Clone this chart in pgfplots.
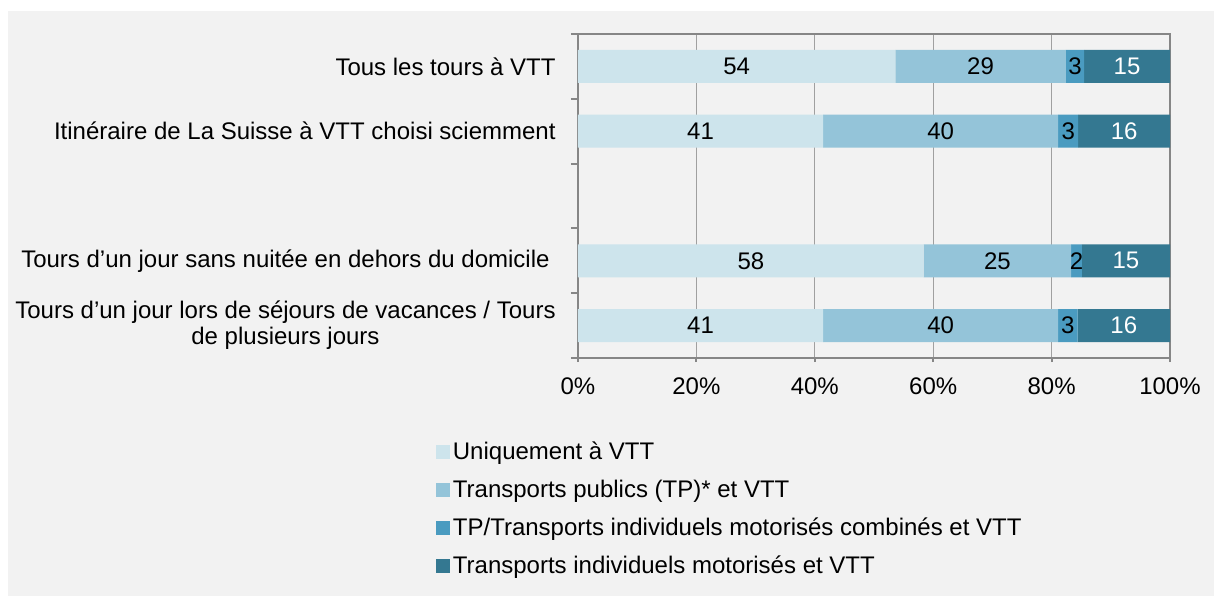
\documentclass[border=0pt]{standalone}
\usepackage{fontspec}
\setmainfont{Liberation Sans}
\usepackage{pgfplots}
\usepackage{pgfplotstable}
\pgfplotsset{compat=1.18}
\definecolor{cA}{RGB}{205,228,236}
\definecolor{cB}{RGB}{148,196,217}
\definecolor{cC}{RGB}{74,155,192}
\definecolor{cD}{RGB}{52,120,145}
\definecolor{bg}{RGB}{242,242,242}
\definecolor{axc}{RGB}{134,134,134}
\definecolor{gridc}{RGB}{160,160,160}
\pgfplotstableread{
y a b c d la lb lc ld
0 53.6 28.8 3.1 14.5 54 29 3 15
1 41.4 39.7 3.4 15.5 41 40 3 16
3 58.4 24.9 1.8 14.9 58 25 2 15
4 41.4 39.7 3.3 15.6 41 40 3 16
}\data
\pgfplotsset{base/.style={
  at={(0,0)}, anchor=south west,
  width=296pt, height=162pt, scale only axis,
  xmin=0, xmax=100, ymin=-0.5, ymax=4.5, y dir=reverse,
  /pgf/number format/assume math mode=true,
}}
\begin{document}
\fontsize{12pt}{13pt}\selectfont
\begin{tikzpicture}
\path[use as bounding box, fill=white] (-289pt,-119pt) rectangle (318pt,179pt);
\fill[bg] (-285pt,-119pt) rectangle (318pt,173.5pt);
\begin{axis}[base,
  xbar stacked, bar width=16.5pt,
  axis line style={axc, line width=1pt},
  tick style={axc, line width=1pt},
  tick align=outside,
  xtick pos=bottom, ytick pos=left,
  major tick length=2pt, minor tick length=3.5pt,
  xtick={0,20,...,100},
  xticklabel={\pgfmathprintnumber{\tick}\%},
  xticklabel style={yshift=-3.5pt},
  xmajorgrids, major x grid style={gridc, line width=0.5pt},
  ytick={0,1,3,4},
  every major y tick/.append style={draw=none},
  minor ytick={-0.5,0.5,1.5,2.5,3.5,4.5},
  yticklabels={Tous les tours à VTT, Itinéraire de La Suisse à VTT choisi sciemment, Tours d’un jour sans nuitée en dehors du domicile\rule{3pt}{0pt}, Tours d’un jour lors de séjours de vacances / Tours\\de plusieurs jours},
  yticklabel style={align=center, xshift=-5pt},
  legend image code/.code={\fill[#1] (0pt,-3pt) rectangle (7pt,4pt);},
  legend cell align=left,
  legend style={at={(-0.24,-0.247)}, anchor=north west, draw=none, fill=none,
    inner sep=0pt, outer sep=0pt, row sep=4pt,
    nodes={inner sep=1.5pt, text height=9pt, text depth=3pt}},
]
\addplot[fill=cA, draw=none] table[x=a, y=y] {\data};
\addplot[fill=cB, draw=none] table[x=b, y=y] {\data};
\addplot[fill=cC, draw=none] table[x=c, y=y] {\data};
\addplot[fill=cD, draw=none] table[x=d, y=y] {\data};
\legend{Uniquement à VTT, Transports publics (TP)* et VTT, TP/Transports individuels motorisés combinés et VTT, Transports individuels motorisés et VTT}
\end{axis}
\begin{axis}[base, hide axis,
  nodes near coords style={anchor=center, inner sep=0pt}]
\addplot[draw=none, mark=none, nodes near coords, point meta=explicit symbolic,
  nodes near coords style={text=black}]
  table[x expr=\thisrow{a}/2, y=y, meta=la] {\data};
\addplot[draw=none, mark=none, nodes near coords, point meta=explicit symbolic,
  nodes near coords style={text=black}]
  table[x expr=\thisrow{a}+\thisrow{b}/2, y=y, meta=lb] {\data};
\addplot[draw=none, mark=none, nodes near coords, point meta=explicit symbolic,
  nodes near coords style={text=black}]
  table[x expr=\thisrow{a}+\thisrow{b}+\thisrow{c}/2, y=y, meta=lc] {\data};
\addplot[draw=none, mark=none, nodes near coords, point meta=explicit symbolic,
  nodes near coords style={text=white}]
  table[x expr=\thisrow{a}+\thisrow{b}+\thisrow{c}+\thisrow{d}/2, y=y, meta=ld] {\data};
\end{axis}
\end{tikzpicture}
\end{document}
